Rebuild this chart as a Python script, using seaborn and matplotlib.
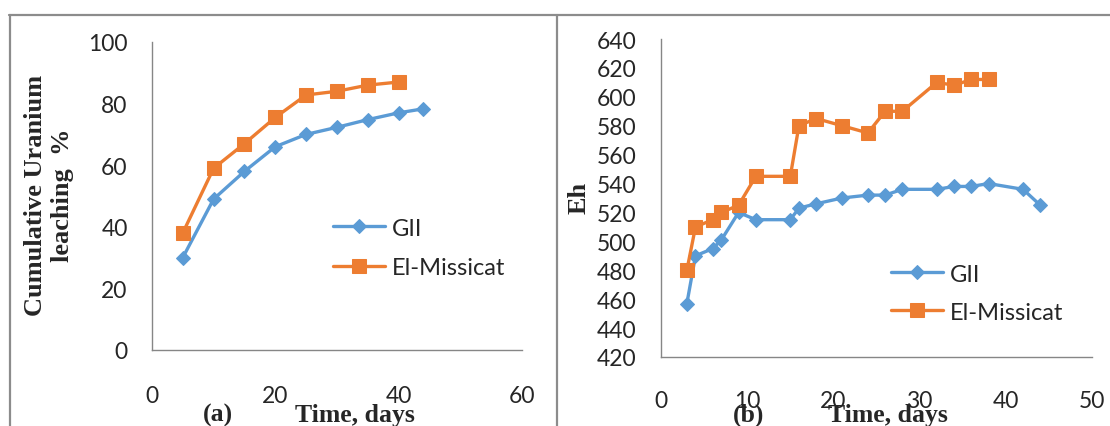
# leaching and Eh curves for the two ore samples, two panels side by side

import matplotlib.pyplot as plt
from matplotlib.lines import Line2D
import seaborn as sns

# --- panel (a): cumulative uranium leaching % ---
days_gii_a = [5, 10, 15, 20, 25, 30, 35, 40, 44]
leach_gii = [30, 49, 58, 66, 70, 72.3, 74.8, 77, 78.3]
days_mis_a = [5, 10, 15, 20, 25, 30, 35, 40]
leach_mis = [38, 59, 67, 75.5, 82.8, 84, 86, 87]

# --- panel (b): Eh ---
days_gii_b = [3, 4, 6, 7, 9, 11, 15, 16, 18, 21, 24, 26, 28, 32, 34, 36, 38, 42, 44]
eh_gii = [457, 490, 495, 501, 520, 515, 515, 523, 526, 530, 532, 532, 536, 536, 538, 538, 540, 536, 525]
days_mis_b = [3, 4, 6, 7, 9, 11, 15, 16, 18, 21, 24, 26, 28, 32, 34, 36, 38]
eh_mis = [480, 510, 515, 520, 525, 545, 545, 580, 585, 580, 575, 590, 590, 610, 608, 612, 612]

labels = ['GII', 'El-Missicat']
xticks_a = [0, 20, 40, 60]
yticks_a = [0, 20, 40, 60, 80, 100]
xticks_b = [0, 10, 20, 30, 40, 50]
yticks_b = list(range(420, 641, 20))

BLUE = '#5B9BD5'
ORANGE = '#ED7D31'
GREY = '#868686'

sns.set_style("white")
plt.rcParams['font.family'] = ['Lato', 'DejaVu Sans']

fig = plt.figure(figsize=(11.1, 4.27), dpi=100)
ax1 = fig.add_axes([0.1369, 0.178, 0.3333, 0.7213])
ax2 = fig.add_axes([0.5955, 0.1616, 0.3883, 0.7447])


def draw_series(ax, x1, y1, x2, y2):
    sns.lineplot(x=x1, y=y1, ax=ax, color=BLUE, linewidth=2.4, marker='D',
                 markersize=7.5, markeredgecolor=BLUE, label=labels[0], sort=False)
    sns.lineplot(x=x2, y=y2, ax=ax, color=ORANGE, linewidth=2.4, marker='s',
                 markersize=10.5, markeredgecolor=ORANGE, label=labels[1], sort=False)


def style_axis(ax, xticks, yticks, xpad):
    ax.set_xlim(xticks[0], xticks[-1])
    ax.set_ylim(yticks[0], yticks[-1])
    ax.set_xticks(xticks)
    ax.set_yticks(yticks)
    for side in ['top', 'right']:
        ax.spines[side].set_visible(False)
    for side in ['left', 'bottom']:
        ax.spines[side].set_color(GREY)
        ax.spines[side].set_linewidth(1)
    ax.tick_params(direction='out', length=6.5, width=1, color=GREY, labelsize=16.5)
    ax.tick_params(axis='x', pad=xpad)
    ax.tick_params(axis='y', pad=11)
    ax.set_xlabel('')
    ax.set_ylabel('')


draw_series(ax1, days_gii_a, leach_gii, days_mis_a, leach_mis)
style_axis(ax1, xticks_a, yticks_a, 18.5)
ax1.legend(loc='upper left', bbox_to_anchor=(0.489, 0.43), frameon=False, fontsize=17,
           borderaxespad=0, borderpad=0, handlelength=2.2, handletextpad=0.3,
           labelspacing=0.8, numpoints=1)

draw_series(ax2, days_gii_b, eh_gii, days_mis_b, eh_mis)
style_axis(ax2, xticks_b, yticks_b, 17.5)
ax2.legend(loc='upper left', bbox_to_anchor=(0.534, 0.294), frameon=False, fontsize=17,
           borderaxespad=0, borderpad=0, handlelength=2.2, handletextpad=0.3,
           labelspacing=0.72, numpoints=1)

# axis titles in bold serif, as in the original figure
serif = dict(family=['Liberation Serif', 'DejaVu Serif'], fontweight='bold')
fig.text(0.0441, 0.5433, 'Cumulative Uranium\nleaching  %', rotation=90, ha='center',
         va='center', multialignment='center', fontsize=19, linespacing=1.2, **serif)
fig.text(0.5216, 0.5363, 'Eh', rotation=90, ha='center', va='center', fontsize=19, **serif)
fig.text(0.1964, 0.0117, '(a)', ha='center', va='baseline', fontsize=18.5, **serif)
fig.text(0.3198, 0.0117, 'Time, days', ha='center', va='baseline', fontsize=18.5, **serif)
fig.text(0.6748, 0.0117, '(b)', ha='center', va='baseline', fontsize=18.5, **serif)
fig.text(0.800, 0.0117, 'Time, days', ha='center', va='baseline', fontsize=18.5, **serif)

# panel frames
top = 1 - 16 / 427
fig.add_artist(Line2D([9 / 1110, 1.0], [top, top], transform=fig.transFigure, color='#8c8c8c', lw=1.6))
for xf in [10 / 1110, 557 / 1110]:
    fig.add_artist(Line2D([xf, xf], [0, top], transform=fig.transFigure, color='#8c8c8c', lw=1.6))

fig.savefig('out.png', dpi=100)
